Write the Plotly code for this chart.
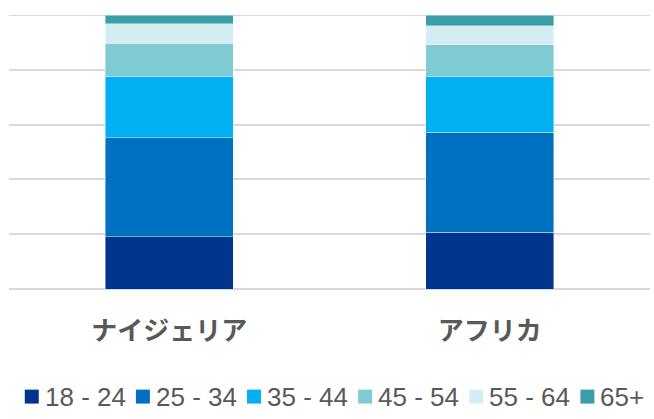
import plotly.graph_objects as go

categories = ["ナイジェリア", "アフリカ"]
age_groups = ["18 - 24", "25 - 34", "35 - 44", "45 - 54", "55 - 64", "65+"]
nigeria = [19.0, 36.2, 22.4, 12.1, 7.1, 3.2]
africa = [20.7, 36.6, 20.4, 11.5, 6.9, 3.9]
colors = ["#00358E", "#0070C0", "#00B0F0", "#7FCBD4", "#D4EDF2", "#3A9EA8"]

W, H = 654, 419
L, R, T, B = 8.5, 3.5, 14.5, 129.5
PW, PH = W - L - R, H - T - B

def px2x(px):
    return (px - L) / PW

def py2y(py):
    return (H - B - py) / PH

fig = go.Figure()
for i, g in enumerate(age_groups):
    fig.add_trace(go.Bar(
        x=categories, y=[nigeria[i], africa[i]], name=g,
        marker=dict(color=colors[i], line=dict(color="rgba(255,255,255,0.6)", width=0.7)),
        showlegend=False,
    ))

# top gridline (at 100%)
fig.add_shape(type="line", xref="paper", yref="y", x0=0, x1=1, y0=100, y1=100,
              line=dict(color="#D9D9D9", width=1.8), layer="below")

# manual legend
box_left = 24.3
step = 111.3
box = 14
cy = 397.5
for i, g in enumerate(age_groups):
    x0 = box_left + i * step
    fig.add_shape(type="rect", xref="paper", yref="paper",
                  x0=px2x(x0), x1=px2x(x0 + box), y0=py2y(cy + box / 2), y1=py2y(cy - box / 2),
                  fillcolor=colors[i], line=dict(width=0))
    fig.add_annotation(xref="paper", yref="paper", x=px2x(x0 + box + 4), y=py2y(cy),
                       text=g, showarrow=False, xanchor="left", yanchor="middle",
                       font=dict(family="Liberation Sans, Arial", size=26, color="#595959"))

fig.update_layout(
    barmode="stack", barnorm="percent",
    width=W, height=H,
    margin=dict(l=L, r=R, t=T, b=B),
    plot_bgcolor="white", paper_bgcolor="white",
    bargap=0.6,
    showlegend=False,
    xaxis=dict(tickfont=dict(family="Noto Sans CJK JP", size=26, color="#595959", weight="bold"),
               ticklabelstandoff=24, showline=False, ticks=""),
    yaxis=dict(range=[0, 100], dtick=20, showticklabels=False, gridcolor="#D9D9D9",
               gridwidth=1.8, zeroline=True, zerolinecolor="#D9D9D9", zerolinewidth=1.8),
)
fig.write_html("out.html")
